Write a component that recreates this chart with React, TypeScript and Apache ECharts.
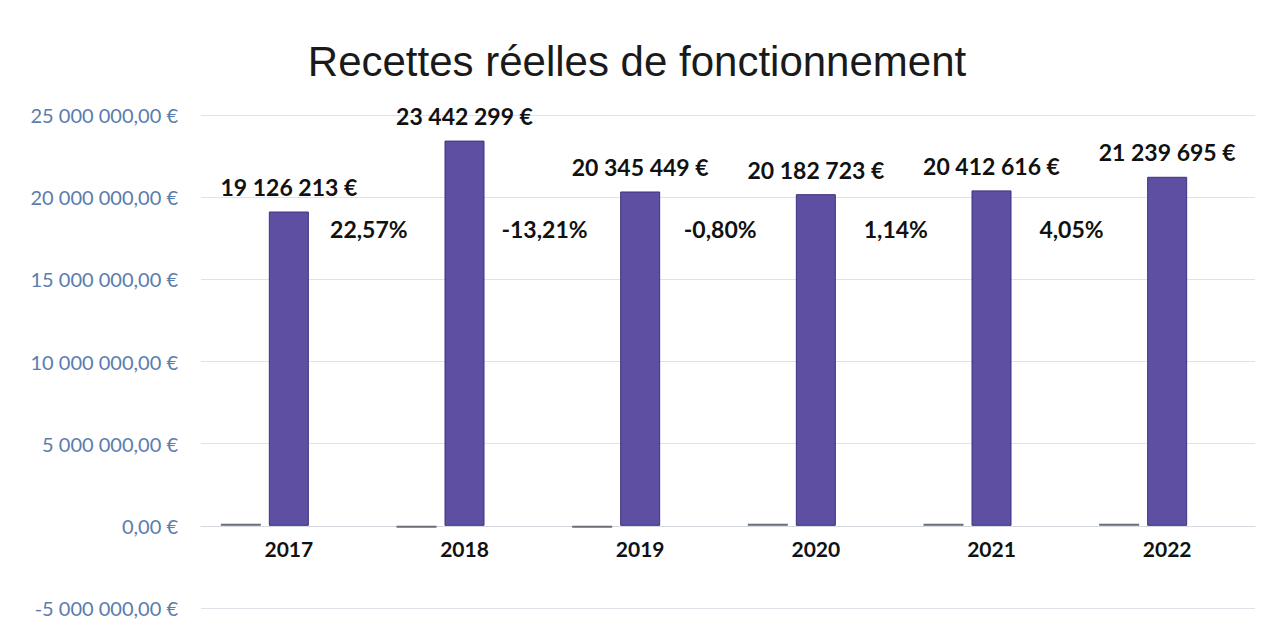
import React, { useEffect, useRef } from "react";
import * as echarts from "echarts";

const years = ["2017", "2018", "2019", "2020", "2021", "2022"];
const recettes = [19126213, 23442299, 20345449, 20182723, 20412616, 21239695];
const variations = [0.2257, -0.1321, -0.008, 0.0114, 0.0405, 0];
const yTicks = { min: -5000000, max: 25000000, interval: 5000000 };

const fmtThousands = (n: number) =>
  Math.round(Math.abs(n)).toString().replace(/\B(?=(\d{3})+(?!\d))/g, " ");

const fmtAxis = (v: number) => (v < 0 ? "-" : "") + fmtThousands(v) + ",00 €";
const fmtPct = (v: number) => (v * 100).toFixed(2).replace(".", ",") + "%";

export default function App() {
  const ref = useRef<HTMLDivElement>(null);
  useEffect(() => {
    document.body.style.margin = "0";
    if (!ref.current) return;
    const chart = echarts.init(ref.current, null, { renderer: "svg" });
    chart.setOption({
      animation: false,
      backgroundColor: "#ffffff",
      title: {
        text: "Recettes réelles de fonctionnement",
        left: "center",
        top: 35,
        textStyle: {
          fontFamily: "Liberation Sans",
          fontSize: 42,
          fontWeight: "normal",
          color: "#1a1a1a",
        },
      },
      grid: {
        left: 201,
        right: 19,
        top: 115,
        bottom: 25,
        containLabel: false,
        outerBoundsMode: "none",
      },
      xAxis: {
        type: "category",
        data: years,
        offset: -82,
        axisTick: { show: false },
        axisLine: { show: true, onZero: false, lineStyle: { color: "#d4d8df", width: 1 } },
        axisLabel: {
          margin: 12,
          fontFamily: "Lato",
          fontWeight: "bold",
          fontSize: 21,
          color: "#111111",
        },
      },
      yAxis: {
        type: "value",
        min: yTicks.min,
        max: yTicks.max,
        interval: yTicks.interval,
        axisLine: { show: false },
        axisTick: { show: false },
        splitLine: { lineStyle: { color: "#dfe2e8", width: 1 } },
        axisLabel: {
          margin: 23,
          fontFamily: "Lato",
          fontSize: 20,
          color: "#5a7cae",
          formatter: fmtAxis,
        },
      },
      series: [
        {
          name: "Variation",
          type: "bar",
          data: variations,
          barWidth: 40,
          barGap: "20%",
          barMinHeight: 2,
          itemStyle: { color: "#6b6b73" },
          label: { show: false },
          z: 2,
        },
        {
          name: "Recettes",
          type: "bar",
          data: recettes,
          barWidth: 40,
          barGap: "20%",
          itemStyle: { color: "#5f4fa3", borderColor: "#3d3282", borderWidth: 1 },
          label: {
            show: true,
            position: "top",
            distance: 13,
            fontFamily: "Lato",
            fontWeight: "bold",
            fontSize: 23,
            color: "#111111",
            formatter: (p: any) => fmtThousands(p.value) + " €",
          },
          z: 3,
        },
        {
          name: "Évolution",
          type: "bar",
          data: variations.slice(0, 5),
          barWidth: 40,
          barGap: "20%",
          itemStyle: { color: "rgba(0,0,0,0)" },
          label: {
            show: true,
            position: "top",
            distance: 0,
            offset: [32, -285],
            fontFamily: "Lato",
            fontWeight: "bold",
            fontSize: 23,
            color: "#111111",
            formatter: (p: any) => fmtPct(p.value),
          },
          z: 4,
        },
      ],
    });
    return () => chart.dispose();
  }, []);
  return <div ref={ref} style={{ width: 1274, height: 633 }} />;
}
